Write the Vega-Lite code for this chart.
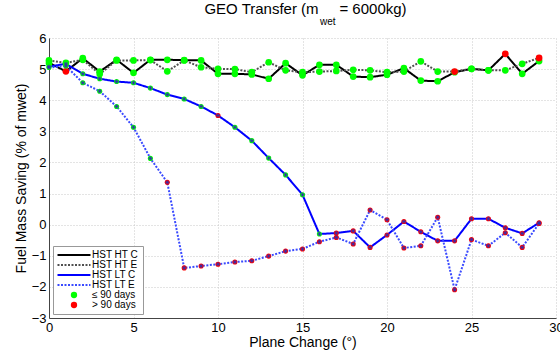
{
  "$schema": "https://vega.github.io/schema/vega-lite/v6.json",
  "width": 507,
  "height": 280,
  "autosize": {"type": "none"},
  "padding": {"left": 49, "top": 38, "right": 4, "bottom": 35},
  "background": "white",
  "title": {
    "text": "GEO Transfer (m\u00a0\u00a0\u00a0\u00a0 = 6000kg)",
    "subtitle": "\u200b\u00a0\u00a0\u00a0\u00a0\u00a0\u00a0\u00a0\u00a0\u00a0\u00a0\u00a0\u00a0\u00a0\u00a0\u00a0\u00a0wet\u200b",
    "font": "Liberation Sans",
    "fontSize": 15,
    "fontWeight": "normal",
    "color": "#000",
    "subtitleFont": "Liberation Sans",
    "subtitleFontSize": 10,
    "subtitleColor": "#000",
    "subtitlePadding": 0,
    "anchor": "middle",
    "dx": 3,
    "offset": 5
  },
  "config": {
    "font": "Liberation Sans",
    "view": {"stroke": null},
    "axis": {
      "labelFont": "Liberation Sans",
      "titleFont": "Liberation Sans",
      "labelColor": "#000",
      "titleColor": "#000",
      "titleFontWeight": "normal",
      "domainColor": "#444",
      "gridColor": "#c8c8c8",
      "gridDash": [1, 2],
      "ticks": false
    }
  },
  "datasets": {
    "pts": [
      {"x":0,"y":5.20,"s":"HST HT C","d":"≤ 90 days"},{"x":1,"y":4.93,"s":"HST HT C","d":"> 90 days"},{"x":2,"y":5.35,"s":"HST HT C","d":"≤ 90 days"},{"x":3,"y":4.92,"s":"HST HT C","d":"≤ 90 days"},{"x":4,"y":5.30,"s":"HST HT C","d":"≤ 90 days"},{"x":5,"y":4.88,"s":"HST HT C","d":"≤ 90 days"},{"x":6,"y":5.30,"s":"HST HT C","d":"≤ 90 days"},{"x":7,"y":5.30,"s":"HST HT C","d":"≤ 90 days"},{"x":8,"y":5.29,"s":"HST HT C","d":"≤ 90 days"},{"x":9,"y":5.28,"s":"HST HT C","d":"≤ 90 days"},
      {"x":10,"y":4.85,"s":"HST HT C","d":"≤ 90 days"},{"x":11,"y":4.85,"s":"HST HT C","d":"≤ 90 days"},{"x":12,"y":4.83,"s":"HST HT C","d":"≤ 90 days"},{"x":13,"y":4.69,"s":"HST HT C","d":"≤ 90 days"},{"x":14,"y":5.19,"s":"HST HT C","d":"≤ 90 days"},{"x":15,"y":4.80,"s":"HST HT C","d":"≤ 90 days"},{"x":16,"y":5.14,"s":"HST HT C","d":"≤ 90 days"},{"x":17,"y":5.14,"s":"HST HT C","d":"≤ 90 days"},{"x":18,"y":4.76,"s":"HST HT C","d":"≤ 90 days"},{"x":19,"y":4.74,"s":"HST HT C","d":"≤ 90 days"},
      {"x":20,"y":4.82,"s":"HST HT C","d":"≤ 90 days"},{"x":21,"y":5.03,"s":"HST HT C","d":"≤ 90 days"},{"x":22,"y":4.63,"s":"HST HT C","d":"≤ 90 days"},{"x":23,"y":4.61,"s":"HST HT C","d":"≤ 90 days"},{"x":24,"y":4.90,"s":"HST HT C","d":"≤ 90 days"},{"x":25,"y":5.01,"s":"HST HT C","d":"≤ 90 days"},{"x":26,"y":4.96,"s":"HST HT C","d":"≤ 90 days"},{"x":27,"y":5.49,"s":"HST HT C","d":"> 90 days"},{"x":28,"y":4.85,"s":"HST HT C","d":"≤ 90 days"},{"x":29,"y":5.26,"s":"HST HT C","d":"≤ 90 days"},

      {"x":0,"y":5.28,"s":"HST HT E","d":"≤ 90 days"},{"x":1,"y":5.20,"s":"HST HT E","d":"≤ 90 days"},{"x":2,"y":5.30,"s":"HST HT E","d":"≤ 90 days"},{"x":3,"y":4.84,"s":"HST HT E","d":"≤ 90 days"},{"x":4,"y":5.28,"s":"HST HT E","d":"≤ 90 days"},{"x":5,"y":5.28,"s":"HST HT E","d":"≤ 90 days"},{"x":6,"y":5.29,"s":"HST HT E","d":"≤ 90 days"},{"x":7,"y":4.93,"s":"HST HT E","d":"≤ 90 days"},{"x":8,"y":5.28,"s":"HST HT E","d":"≤ 90 days"},{"x":9,"y":5.06,"s":"HST HT E","d":"≤ 90 days"},
      {"x":10,"y":5.01,"s":"HST HT E","d":"≤ 90 days"},{"x":11,"y":5.00,"s":"HST HT E","d":"≤ 90 days"},{"x":12,"y":4.90,"s":"HST HT E","d":"≤ 90 days"},{"x":13,"y":5.22,"s":"HST HT E","d":"≤ 90 days"},{"x":14,"y":4.96,"s":"HST HT E","d":"≤ 90 days"},{"x":15,"y":4.90,"s":"HST HT E","d":"≤ 90 days"},{"x":16,"y":4.92,"s":"HST HT E","d":"≤ 90 days"},{"x":17,"y":4.94,"s":"HST HT E","d":"≤ 90 days"},{"x":18,"y":4.98,"s":"HST HT E","d":"≤ 90 days"},{"x":19,"y":4.96,"s":"HST HT E","d":"≤ 90 days"},
      {"x":20,"y":4.90,"s":"HST HT E","d":"≤ 90 days"},{"x":21,"y":4.92,"s":"HST HT E","d":"≤ 90 days"},{"x":22,"y":5.25,"s":"HST HT E","d":"≤ 90 days"},{"x":23,"y":4.92,"s":"HST HT E","d":"≤ 90 days"},{"x":24,"y":4.92,"s":"HST HT E","d":"> 90 days"},{"x":25,"y":5.01,"s":"HST HT E","d":"≤ 90 days"},{"x":26,"y":4.96,"s":"HST HT E","d":"≤ 90 days"},{"x":27,"y":4.96,"s":"HST HT E","d":"≤ 90 days"},{"x":28,"y":5.17,"s":"HST HT E","d":"≤ 90 days"},{"x":29,"y":5.36,"s":"HST HT E","d":"> 90 days"},

      {"x":0,"y":5.08,"s":"HST LT C","d":"≤ 90 days"},{"x":1,"y":5.17,"s":"HST LT C","d":"≤ 90 days"},{"x":2,"y":4.85,"s":"HST LT C","d":"≤ 90 days"},{"x":3,"y":4.69,"s":"HST LT C","d":"≤ 90 days"},{"x":4,"y":4.60,"s":"HST LT C","d":"≤ 90 days"},{"x":5,"y":4.56,"s":"HST LT C","d":"≤ 90 days"},{"x":6,"y":4.39,"s":"HST LT C","d":"≤ 90 days"},{"x":7,"y":4.18,"s":"HST LT C","d":"≤ 90 days"},{"x":8,"y":4.04,"s":"HST LT C","d":"≤ 90 days"},{"x":9,"y":3.80,"s":"HST LT C","d":"≤ 90 days"},
      {"x":10,"y":3.51,"s":"HST LT C","d":"> 90 days"},{"x":11,"y":3.13,"s":"HST LT C","d":"≤ 90 days"},{"x":12,"y":2.70,"s":"HST LT C","d":"≤ 90 days"},{"x":13,"y":2.14,"s":"HST LT C","d":"≤ 90 days"},{"x":14,"y":1.60,"s":"HST LT C","d":"≤ 90 days"},{"x":15,"y":0.96,"s":"HST LT C","d":"≤ 90 days"},{"x":16,"y":-0.30,"s":"HST LT C","d":"≤ 90 days"},{"x":17,"y":-0.27,"s":"HST LT C","d":"> 90 days"},{"x":18,"y":-0.20,"s":"HST LT C","d":"> 90 days"},{"x":19,"y":-0.73,"s":"HST LT C","d":"> 90 days"},
      {"x":20,"y":-0.33,"s":"HST LT C","d":"> 90 days"},{"x":21,"y":0.10,"s":"HST LT C","d":"> 90 days"},{"x":22,"y":-0.23,"s":"HST LT C","d":"> 90 days"},{"x":23,"y":-0.52,"s":"HST LT C","d":"> 90 days"},{"x":24,"y":-0.52,"s":"HST LT C","d":"> 90 days"},{"x":25,"y":0.19,"s":"HST LT C","d":"> 90 days"},{"x":26,"y":0.19,"s":"HST LT C","d":"> 90 days"},{"x":27,"y":-0.10,"s":"HST LT C","d":"> 90 days"},{"x":28,"y":-0.28,"s":"HST LT C","d":"> 90 days"},{"x":29,"y":0.06,"s":"HST LT C","d":"> 90 days"},

      {"x":0,"y":5.05,"s":"HST LT E","d":"≤ 90 days"},{"x":1,"y":5.10,"s":"HST LT E","d":"≤ 90 days"},{"x":2,"y":4.56,"s":"HST LT E","d":"≤ 90 days"},{"x":3,"y":4.29,"s":"HST LT E","d":"≤ 90 days"},{"x":4,"y":3.80,"s":"HST LT E","d":"≤ 90 days"},{"x":5,"y":3.13,"s":"HST LT E","d":"≤ 90 days"},{"x":6,"y":2.13,"s":"HST LT E","d":"≤ 90 days"},{"x":7,"y":1.36,"s":"HST LT E","d":"> 90 days"},{"x":8,"y":-1.39,"s":"HST LT E","d":"> 90 days"},{"x":9,"y":-1.33,"s":"HST LT E","d":"> 90 days"},
      {"x":10,"y":-1.27,"s":"HST LT E","d":"> 90 days"},{"x":11,"y":-1.20,"s":"HST LT E","d":"> 90 days"},{"x":12,"y":-1.16,"s":"HST LT E","d":"> 90 days"},{"x":13,"y":-1.01,"s":"HST LT E","d":"> 90 days"},{"x":14,"y":-0.85,"s":"HST LT E","d":"> 90 days"},{"x":15,"y":-0.78,"s":"HST LT E","d":"> 90 days"},{"x":16,"y":-0.55,"s":"HST LT E","d":"> 90 days"},{"x":17,"y":-0.41,"s":"HST LT E","d":"> 90 days"},{"x":18,"y":-0.62,"s":"HST LT E","d":"> 90 days"},{"x":19,"y":0.47,"s":"HST LT E","d":"> 90 days"},
      {"x":20,"y":0.16,"s":"HST LT E","d":"> 90 days"},{"x":21,"y":-0.75,"s":"HST LT E","d":"> 90 days"},{"x":22,"y":-0.68,"s":"HST LT E","d":"> 90 days"},{"x":23,"y":0.24,"s":"HST LT E","d":"> 90 days"},{"x":24,"y":-2.09,"s":"HST LT E","d":"> 90 days"},{"x":25,"y":-0.48,"s":"HST LT E","d":"> 90 days"},{"x":26,"y":-0.68,"s":"HST LT E","d":"> 90 days"},{"x":27,"y":-0.26,"s":"HST LT E","d":"> 90 days"},{"x":28,"y":-0.73,"s":"HST LT E","d":"> 90 days"},{"x":29,"y":0.04,"s":"HST LT E","d":"> 90 days"}
    ]
  },
  "data": {"name": "pts"},
  "encoding": {
    "x": {
      "field": "x", "type": "quantitative",
      "scale": {"domain": [0, 30], "nice": false},
      "axis": {"values": [0, 5, 10, 15, 20, 25, 30], "title": "Plane Change (°)", "titleFontSize": 14, "titlePadding": 1, "labelFontSize": 13, "labelPadding": 3, "labelFlush": false, "grid": true}
    },
    "y": {
      "field": "y", "type": "quantitative",
      "scale": {"domain": [-3, 6], "nice": false},
      "axis": {"values": [-3, -2, -1, 0, 1, 2, 3, 4, 5, 6], "title": "Fuel Mass Saving (% of mwet)", "titleFontSize": 14, "titlePadding": 3, "labelFontSize": 13, "labelPadding": 3, "labelFlush": false, "grid": true}
    }
  },
  "layer": [
    {
      "mark": {"type": "line", "strokeWidth": 2},
      "encoding": {
        "order": {"field": "x", "type": "quantitative"},
        "color": {
          "field": "s", "type": "nominal",
          "scale": {
            "domain": ["HST HT C", "HST HT E", "HST LT C", "HST LT E", "≤ 90 days", "> 90 days"],
            "range": ["#000000", "#505050", "#0000ff", "#3a4aff", "#00ff00", "#ff0000"]
          },
          "legend": {
            "title": null,
            "orient": "bottom-left",
            "offset": 4,
            "padding": 4,
            "strokeColor": "#999",
            "fillColor": "#ffffff",
            "labelFont": "Liberation Sans",
            "labelFontSize": 10,
            "labelColor": "#000",
            "rowPadding": 0,
            "symbolSize": 100,
            "symbolOffset": 12,
            "labelOffset": 13,
            "symbolType": "M-3.3,0L3.3,0",
            "encode": {
              "symbols": {
                "update": {
                  "shape": {"signal": "(datum.value === '≤ 90 days' || datum.value === '> 90 days') ? 'circle' : 'M-3.3,0L3.3,0'"},
                  "size": {"signal": "(datum.value === '≤ 90 days' || datum.value === '> 90 days') ? 40 : 100"},
                  "fill": {"signal": "(datum.value === '≤ 90 days' || datum.value === '> 90 days') ? scale('color', datum.value) : 'transparent'"},
                  "stroke": {"signal": "scale('color', datum.value)"},
                  "strokeWidth": {"signal": "(datum.value === '≤ 90 days' || datum.value === '> 90 days') ? 0 : 2"},
                  "strokeDash": {"signal": "(datum.value === 'HST HT E' || datum.value === 'HST LT E') ? [2, 1.5] : [1, 0]"},
                  "opacity": {"value": 1}
                }
              }
            }
          }
        },
        "strokeDash": {
          "field": "s", "type": "nominal",
          "scale": {"domain": ["HST HT C", "HST HT E", "HST LT C", "HST LT E"], "range": [[1, 0], [2, 1.5], [1, 0], [2, 1.5]]},
          "legend": null
        }
      }
    },
    {
      "transform": [{"filter": "indexof(datum.s, 'HT') >= 0"}],
      "mark": {"type": "circle", "size": 45, "opacity": 1},
      "encoding": {"color": {"field": "d", "type": "nominal"}}
    },
    {
      "transform": [{"filter": "indexof(datum.s, 'LT') >= 0"}],
      "mark": {"type": "circle", "size": 26, "opacity": 1},
      "encoding": {"color": {"field": "d", "type": "nominal"}}
    },
    {
      "transform": [{"filter": "indexof(datum.s, 'LT') >= 0"}],
      "mark": {"type": "point", "shape": "M-1,0L1,0M0,-1L0,1M-0.7,-0.7L0.7,0.7M-0.7,0.7L0.7,-0.7", "filled": false, "size": 16, "strokeWidth": 0.8, "color": "#3030b0", "opacity": 1},
      "encoding": {}
    }
  ]
}
